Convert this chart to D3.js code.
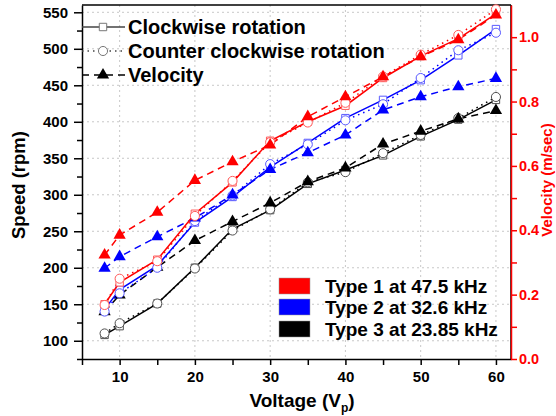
<!DOCTYPE html>
<html><head><meta charset="utf-8">
<script src="https://cdn.jsdelivr.net/npm/d3@7"></script>
<style>body{margin:0;background:#fff}svg{display:block;font-family:"Liberation Sans",Arial,sans-serif;font-weight:bold}</style>
</head><body><div id="c"></div>
<script>
const voltage = [8,10,15,20,25,30,35,40,45,50,55,60];
const type1CW  = [150,180,211,274,317,374,400,422,460,490,514,548];
const type1CCW = [149,185,209,271,319,372,399,426,462,492,519,554];
const type1Vel = [0.323,0.385,0.456,0.555,0.613,0.665,0.753,0.815,0.877,0.939,0.992,1.069];
const type2CW  = [143,170,203,262,297,338,371,405,430,457,491,527];
const type2CCW = [140,165,200,264,299,342,369,402,424,460,498,522];
const type2Vel = [0.282,0.318,0.380,0.438,0.510,0.589,0.641,0.696,0.774,0.815,0.846,0.872];
const type3CW  = [108,120,151,200,253,279,315,334,354,380,403,430];
const type3CCW = [110,124,151,199,251,280,317,331,357,382,405,434];
const type3Vel = [0.147,0.199,0.285,0.368,0.427,0.485,0.551,0.594,0.668,0.708,0.746,0.772];
const xTicks = [10,20,30,40,50,60];
const speedTicks = [100,150,200,250,300,350,400,450,500,550];
const velTicks = [0.0,0.2,0.4,0.6,0.8,1.0];
const typeNames = ["Type 1 at 47.5 kHz","Type 2 at 32.6 kHz","Type 3 at 23.85 kHz"];
const styleNames = ["Clockwise rotation","Counter clockwise rotation","Velocity"];

const W=556,H=416, L=82,R=511,T=5,B=359;
const colors=["#ff0000","#0000ff","#000000"];
const lightColors=["#ff5a5a","#5a5aff","#505050"];
const svg=d3.select("#c").append("svg").attr("width",W).attr("height",H);
const x=d3.scaleLinear().domain([5,62]).range([L,R]);
const y=d3.scaleLinear().domain([75,560]).range([B,T]);
const yv=d3.scaleLinear().domain([0,1.1]).range([B,T]);

// grid
const g=svg.append("g");
g.selectAll(".gx").data(xTicks).join("line").attr("x1",d=>x(d)).attr("x2",d=>x(d)).attr("y1",T).attr("y2",B)
 .attr("stroke","#c8c8c8").attr("stroke-dasharray","2,3").attr("stroke-width",1);
g.selectAll(".gy").data(speedTicks).join("line").attr("y1",d=>y(d)).attr("y2",d=>y(d)).attr("x1",L).attr("x2",R)
 .attr("stroke","#c8c8c8").attr("stroke-dasharray","2,3").attr("stroke-width",1);

// frame top
svg.append("line").attr("x1",L).attr("x2",R).attr("y1",T).attr("y2",T).attr("stroke","#000").attr("stroke-width",1.5);
svg.append("line").attr("x1",R).attr("x2",R).attr("y1",T).attr("y2",B).attr("stroke","#000").attr("stroke-width",1.5);

// axes
const xAx=d3.axisBottom(x).tickValues(d3.range(5,62,5)).tickFormat(d=>xTicks.includes(d)?d:"").tickSize(6).tickSizeOuter(0);
const xa=svg.append("g").attr("transform",`translate(0,${B})`).call(xAx);
xa.selectAll("text").attr("font-size",15).attr("font-weight","bold").attr("fill","#000").attr("dy","0.9em");
xa.selectAll("line,path").attr("stroke","#000").attr("stroke-width",1.5);

const yAx=d3.axisLeft(y).tickValues(d3.range(75,561,25)).tickFormat(d=>speedTicks.includes(d)?d:"").tickSizeOuter(0)
 .tickSize(0);
const ya=svg.append("g").attr("transform",`translate(${L},0)`).call(yAx);
ya.selectAll(".tick line").attr("x2",d=>speedTicks.includes(d)?-8:-5);
ya.selectAll("text").attr("font-size",15).attr("font-weight","bold").attr("fill","#000").attr("x",-14);
ya.selectAll("line,path").attr("stroke","#000").attr("stroke-width",1.5);

const vAx=d3.axisRight(yv).tickValues(d3.range(0,11).map(d=>d/10)).tickFormat(d=>velTicks.some(v=>Math.abs(v-d)<1e-9)?d3.format(".1f")(d):"").tickSizeOuter(0).tickSize(0);
const va=svg.append("g").attr("transform",`translate(${R},0)`).call(vAx);
va.selectAll(".tick line").attr("x2",6);
va.selectAll("text").attr("font-size",14.5).attr("font-weight","bold").attr("fill","#ff0000").attr("x",8);
va.selectAll("line,path").attr("stroke","#ff0000").attr("stroke-width",1.5);

// titles
svg.append("text").attr("x",302).attr("y",407).attr("text-anchor","middle").attr("font-size",19)
 .html('Voltage (V<tspan font-size="12" dy="5">p</tspan><tspan dy="-5">)</tspan>');
svg.append("text").attr("transform","translate(25,185) rotate(-90)").attr("text-anchor","middle").attr("font-size",18.5).text("Speed (rpm)");
svg.append("text").attr("transform","translate(552,180) rotate(-90)").attr("text-anchor","middle").attr("font-size",15).attr("fill","#ff0000").text("Velocity (m/sec)");

// series
const types=[
 {cw:type1CW,ccw:type1CCW,vel:type1Vel},
 {cw:type2CW,ccw:type2CCW,vel:type2Vel},
 {cw:type3CW,ccw:type3CCW,vel:type3Vel}];
const lineS=d3.line().x((d,i)=>x(voltage[i])).y(d=>y(d));
const lineV=d3.line().x((d,i)=>x(voltage[i])).y(d=>yv(d));
const sq=d3.symbol().type(d3.symbolSquare).size(55)();
const ci=d3.symbol().type(d3.symbolCircle).size(65)();
const tri=d3.symbol().type(d3.symbolTriangle).size(65)();

const order=[2,1,0];
order.forEach(k=>{
  const t=types[k], c=colors[k], lc=lightColors[k];
  const gg=svg.append("g");
  gg.append("path").attr("d",lineV(t.vel)).attr("fill","none").attr("stroke",c).attr("stroke-width",1.5).attr("stroke-dasharray","7,5");
  gg.append("path").attr("d",lineS(t.ccw)).attr("fill","none").attr("stroke",c).attr("stroke-width",1.5).attr("stroke-dasharray","1.5,4");
  gg.append("path").attr("d",lineS(t.cw)).attr("fill","none").attr("stroke",c).attr("stroke-width",1.5);
  gg.selectAll(".sq").data(t.cw).join("path").attr("d",sq).attr("transform",(d,i)=>`translate(${x(voltage[i])},${y(d)})`)
    .attr("fill","#fff").attr("stroke",lc).attr("stroke-width",1);
  gg.selectAll(".ci").data(t.ccw).join("path").attr("d",ci).attr("transform",(d,i)=>`translate(${x(voltage[i])},${y(d)})`)
    .attr("fill","#fff").attr("stroke",lc).attr("stroke-width",1);
  gg.selectAll(".tr").data(t.vel).join("path").attr("d",tri).attr("transform",(d,i)=>`translate(${x(voltage[i])},${yv(d)})`)
    .attr("fill",c);
});

// legend 1 (styles)
const lg=svg.append("g");
const ly=[27,51,75];
const dash=[null,"1.5,4","7,5"];
styleNames.forEach((n,i)=>{
  lg.append("line").attr("x1",L).attr("x2",125).attr("y1",ly[i]).attr("y2",ly[i]).attr("stroke",i==2?"#000":"#444")
    .attr("stroke-width",1.5).attr("stroke-dasharray",dash[i]);
  const m=[sq,ci,tri][i];
  lg.append("path").attr("d",m).attr("transform",`translate(103,${ly[i]})`).attr("fill",i==2?"#000":"#fff").attr("stroke",i==2?"none":"#777");
  lg.append("text").attr("x",128).attr("y",ly[i]).attr("dy","0.36em").attr("font-size",20).text(n);
});

// legend 2 (types)
const ty=[286,307,329];
typeNames.forEach((n,i)=>{
  lg.append("rect").attr("x",279).attr("y",ty[i]-8).attr("width",31).attr("height",16).attr("fill",colors[i]).attr("stroke","#999").attr("stroke-width",0.5);
  lg.append("text").attr("x",325).attr("y",ty[i]).attr("dy","0.36em").attr("font-size",19).text(n);
});
</script></body></html>
